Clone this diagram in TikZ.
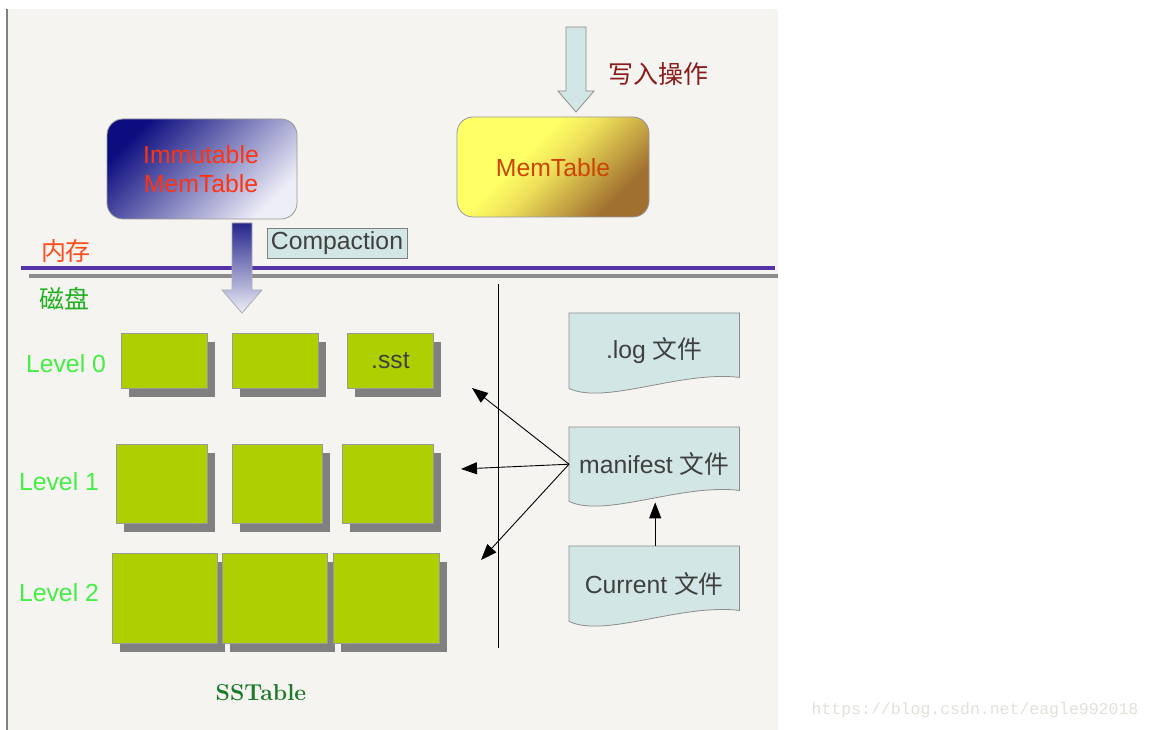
\documentclass[tikz,border=0pt]{standalone}
\usepackage{fontspec}
\newfontfamily\sansf{Liberation Sans}
\newfontfamily\cjk{Noto Sans CJK SC}
\newfontfamily\monof{Liberation Mono}
\usetikzlibrary{arrows.meta,calc,shadows}
\definecolor{bgc}{HTML}{F5F4F0}
\definecolor{sstgreen}{HTML}{AED000}
\definecolor{shadowgray}{HTML}{808080}
\definecolor{filefill}{HTML}{D2E7E5}
\definecolor{lvlgreen}{HTML}{44EE44}
\definecolor{diskgreen}{HTML}{1FAF1F}
\definecolor{memred}{HTML}{FF4A1A}
\definecolor{writered}{HTML}{8B1A1A}
\definecolor{immred}{HTML}{FF3311}
\definecolor{memtxt}{HTML}{CC4400}
\definecolor{ssgreen}{HTML}{1B7A2A}
\definecolor{navy}{HTML}{0D0D80}
\definecolor{lav}{HTML}{EEEEF8}
\definecolor{ylw}{HTML}{FFFF66}
\definecolor{brn}{HTML}{A07030}
\definecolor{memmid}{HTML}{EEE05A}
\definecolor{purp}{HTML}{5533A8}
\definecolor{txtgray}{HTML}{404040}
\definecolor{wmark}{HTML}{E2E0D8}
\pgfdeclareverticalshading{memshade}{100bp}{color(0bp)=(brn); color(27bp)=(brn); color(50bp)=(memmid); color(60bp)=(ylw); color(100bp)=(ylw)}
\pgfdeclarelayer{bglayer}
\pgfdeclarelayer{midlayer}
\pgfsetlayers{bglayer,midlayer,main}
\begin{document}
\begin{tikzpicture}[x=1pt,y=-1pt,
  txt/.style={font=\sansf\fontsize{24.75}{29}\selectfont, inner sep=0pt, align=center},
  sstbox/.style={draw=gray!80, line width=0.8pt, fill=sstgreen, anchor=north west, inner sep=0pt,
    drop shadow={shadow xshift=8pt, shadow yshift=-9pt, fill=shadowgray, opacity=1}},
  filebox/.style={txt, text=txtgray, minimum width=170pt, anchor=north west},
  docf/.style={fill=filefill, draw=gray!90, line width=0.8pt},
  lvl/.style={txt, text=lvlgreen},
  conn/.style={black, line width=0.9pt, -{Triangle[length=16pt,width=12pt]}},
  cjklabel/.style={txt, font=\cjk\fontsize{25}{29}\selectfont},
]
\useasboundingbox (0,0) rectangle (1152,730);
\begin{pgfonlayer}{bglayer}
\fill[bgc] (7,9) rectangle (778,730);
\draw[gray, line width=1.2pt] (7,9) -- (7,730);
\end{pgfonlayer}

% memory / disk separator
\draw[purp, line width=4pt] (21,268) -- (775,268);
\draw[shadowgray!90, line width=3.5pt] (29,276) -- (778,276);
\node[cjklabel, text=memred] (mem) at (66,251) {内存};
\node[cjklabel, text=diskgreen] (disk) at (64,299) {磁盘};

% write arrow
\path[fill=filefill, draw=gray!90, line width=0.8pt]
  (566,27) -- (586,27) -- (586,91) -- (594,91) -- (576,112) -- (558,91) -- (566,91) -- cycle;
\node[cjklabel, text=writered] (write) at (658,74) {写入操作};

% memtables
\path[draw=gray!80, line width=0.8pt, rounded corners=16pt, top color=navy, bottom color=lav, shading angle=45]
  (107,119) rectangle (297,219);
\node[txt, text=immred] (imm) at (201,169) {Immutable\\MemTable};
\path[draw=gray!80, line width=0.8pt, rounded corners=16pt, shade, shading=memshade, shading angle=45]
  (457,117) rectangle (649,217);
\node[txt, text=memtxt] (memt) at (553,168) {MemTable};

% compaction arrow
\path[draw=gray!60!lav, line width=0.8pt, top color=navy!90, bottom color=lav]
  (232,223) -- (252,223) -- (252,290) -- (262,290) -- (242,313) -- (222,290) -- (232,290) -- cycle;
\node[txt, text=txtgray, fill=filefill, draw=gray, line width=0.8pt, minimum width=140pt, minimum height=30pt] (comp) at (337,243) {Compaction};

% levels
\node[lvl] (l0) at (66,364) {Level 0};
\node[lvl] (l1) at (59,482) {Level 1};
\node[lvl] (l2) at (59,593) {Level 2};

\node[sstbox, minimum width=86pt, minimum height=55pt] (a1) at (121,333) {};
\node[sstbox, minimum width=86pt, minimum height=55pt] (a2) at (232,333) {};
\node[sstbox, minimum width=86pt, minimum height=55pt, txt, text=txtgray] (a3) at (347,333) {.sst};

\node[sstbox, minimum width=91pt, minimum height=79pt] (b1) at (116,444) {};
\node[sstbox, minimum width=90pt, minimum height=79pt] (b2) at (232,444) {};
\node[sstbox, minimum width=91pt, minimum height=79pt] (b3) at (342,444) {};

\node[sstbox, minimum width=105pt, minimum height=90pt] (c1) at (112,553) {};
\node[sstbox, minimum width=105pt, minimum height=90pt] (c2) at (222,553) {};
\node[sstbox, minimum width=106pt, minimum height=90pt] (c3) at (333,553) {};

\node[font=\bfseries\fontsize{23}{28}\selectfont, text=ssgreen, inner sep=0pt] (sst) at (261,693) {SSTable};

% divider
\draw[black, line width=0.9pt] (498,284) -- (498,648);

% files
\node[filebox, minimum height=75pt] (log) at (569,313) {.log {\cjk 文件}};
\node[filebox, minimum height=74pt] (man) at (569,427) {manifest {\cjk 文件}};
\node[filebox, minimum height=75pt] (cur) at (569,546) {Current {\cjk 文件}};
\begin{pgfonlayer}{midlayer}
\foreach \f in {log,man,cur}{
  \path[docf] (\f.north west) -- (\f.south west) .. controls +(36,17) and +(-59,-7) .. ($(\f.south east)+(0,-11)$) -- (\f.north east) -- cycle;
}
\end{pgfonlayer}

\coordinate (t0) at (472,388);
\coordinate (t1) at (461,469);
\coordinate (t2) at (481,560);
\draw[conn] (man.west) -- (t0);
\draw[conn] (man.west) -- (t1);
\draw[conn] (man.west) -- (t2);
\draw[conn] ($(cur.north)+(1,0)$) -- ($(man.south)+(1,1)$);

% watermark
\node[font=\monof\fontsize{16.5}{20}\selectfont, text=wmark, inner sep=0pt] (wm) at (975,710) {https://blog.csdn.net/eagle992018};
\end{tikzpicture}
\end{document}
